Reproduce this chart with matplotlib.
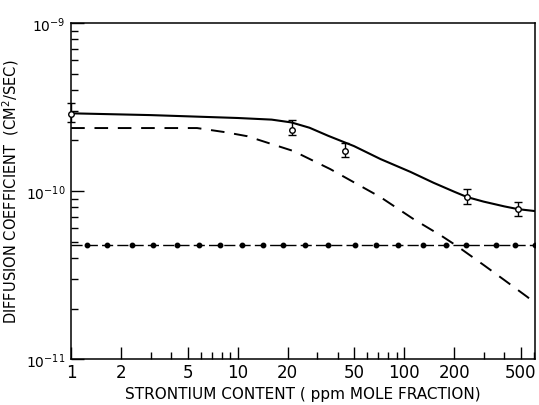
import matplotlib.pyplot as plt
import numpy as np

# solid curve (total diffusion coefficient)
solid_x = [1, 3, 10, 16, 21, 27, 35, 50, 72, 109, 150, 200, 239, 300, 400, 484, 610]
solid_y = [2.90e-10, 2.83e-10, 2.72e-10, 2.66e-10, 2.56e-10, 2.38e-10, 2.13e-10,
           1.85e-10, 1.55e-10, 1.30e-10, 1.12e-10, 9.9e-11, 9.2e-11, 8.65e-11,
           8.1e-11, 7.8e-11, 7.6e-11]

# dashed curve
dash_x = [1, 5.7, 8.4, 11.4, 21.6, 36, 72, 114, 168, 208, 300, 400, 550, 610]
dash_y = [2.37e-10, 2.37e-10, 2.24e-10, 2.12e-10, 1.73e-10, 1.35e-10, 9.2e-11,
          6.8e-11, 5.4e-11, 4.7e-11, 3.63e-11, 2.95e-11, 2.34e-11, 2.15e-11]

# dash-dot line with dots
dot_x = [1.24, 1.64, 2.31, 3.12, 4.35, 5.82, 7.85, 10.6, 14.1, 18.7, 25.2, 34.8,
         50.3, 67.6, 92.4, 129, 179, 235, 357, 464, 612]
dot_y = [4.8e-11] * len(dot_x)

# measured points with error bars
pts_x = [1, 21.2, 44, 238, 484]
pts_y = [2.87e-10, 2.31e-10, 1.73e-10, 9.2e-11, 7.8e-11]
pts_hi = [3.34e-10, 2.65e-10, 1.93e-10, 1.03e-10, 8.61e-11]
pts_lo = [2.58e-10, 2.16e-10, 1.59e-10, 8.37e-11, 7.1e-11]

x_ticks = [1, 2, 5, 10, 20, 50, 100, 200, 500]
x_ticklabels = ["1", "2", "5", "10", "20", "50", "100", "200", "500"]
y_ticks = [1e-11, 1e-10, 1e-9]
y_ticklabels = [r"$10^{-11}$", r"$10^{-10}$", r"$10^{-9}$"]

fig = plt.figure(figsize=(5.39, 4.06), dpi=100)
ax = fig.add_axes([0.132, 0.113, 0.861, 0.828])

ax.plot(solid_x, solid_y, color="black", lw=1.5)
ax.plot(dash_x, dash_y, color="black", lw=1.4, dashes=(7, 5))
ax.plot([1, 612], [4.8e-11, 4.8e-11], color="black", lw=1.0, dashes=(8, 3))
ax.plot(dot_x, dot_y, "o", color="black", ms=3.2, ls="none")

yerr = [np.array(pts_y) - np.array(pts_lo), np.array(pts_hi) - np.array(pts_y)]
ax.errorbar(pts_x, pts_y, yerr=yerr, fmt="o", ms=4, mfc="white", mec="black",
            mew=1.0, ecolor="black", elinewidth=1.0, capsize=3, capthick=1.0,
            zorder=5, clip_on=False)

ax.set_xscale("log")
ax.set_yscale("log")
ax.set_xlim(1, 612)
ax.set_ylim(1e-11, 1e-9)

ax.set_xticks(x_ticks)
ax.set_xticklabels(x_ticklabels, fontsize=12)
ax.set_yticks(y_ticks)
ax.set_yticklabels(y_ticklabels, fontsize=10)

ax.tick_params(axis="both", which="major", direction="in", length=9, width=1.0,
               top=False, right=False)
ax.tick_params(axis="x", which="major", pad=3)
ax.tick_params(axis="y", which="major", pad=4)
ax.tick_params(axis="both", which="minor", direction="in", length=5, width=1.0,
               top=False, right=False)
ax.tick_params(axis="x", which="minor", labelbottom=False)
ax.tick_params(axis="y", which="minor", labelleft=False)

for s in ax.spines.values():
    s.set_linewidth(1.1)

ax.set_xlabel("STRONTIUM CONTENT ( ppm MOLE FRACTION)", fontsize=11)
ax.xaxis.set_label_coords(0.5, -0.08)
ax.set_ylabel(r"DIFFUSION COEFFICIENT  (CM$^2$/SEC)", fontsize=10.5)
ax.yaxis.set_label_coords(-0.108, 0.5)

fig.savefig("out.png", dpi=100)
